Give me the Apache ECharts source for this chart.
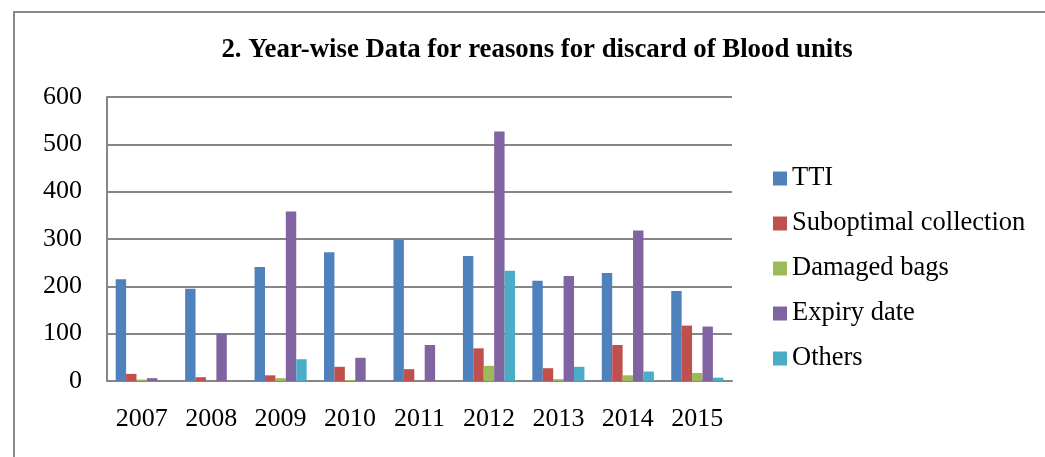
<!DOCTYPE html>
<html>
<head>
<meta charset="utf-8">
<script src="https://cdn.jsdelivr.net/npm/echarts@6/dist/echarts.min.js"></script>
<style>html,body{margin:0;padding:0;background:#fff;}#c{width:1045px;height:457px;}</style>
</head>
<body>
<div id="c"></div>
<script>
const years = ['2007','2008','2009','2010','2011','2012','2013','2014','2015'];
const tti = [215,195,241,272,299,264,212,228,190];
const suboptimal = [15,8,12,30,25,69,27,76,117];
const damaged = [3,0,6,2,0,32,4,12,17];
const expiry = [6,100,358,49,76,527,222,318,115];
const others = [0,0,46,0,0,233,30,20,7];
const yTicks = [0,100,200,300,400,500,600];

const font = 'Liberation Serif, Times New Roman, serif';
const colors = ['#4F81BD','#C0504D','#9BBB59','#8064A2','#4BACC6'];
const names = ['TTI','Suboptimal collection','Damaged bags','Expiry date','Others'];
const values = [tti, suboptimal, damaged, expiry, others];

const chart = echarts.init(document.getElementById('c'));
chart.setOption({
  animation: false,
  backgroundColor: '#fff',
  title: {
    text: '2. Year-wise Data for reasons for discard of Blood units',
    left: 532, top: 32, textAlign: 'center',
    textStyle: { fontFamily: font, fontWeight: 'bold', fontSize: 26.8, color: '#000', lineHeight: 27 }
  },
  graphic: [{
    type: 'rect', silent: true, z: -1,
    shape: { x: 14, y: 12, width: 1100, height: 500 },
    style: { fill: 'none', stroke: '#888', lineWidth: 2 }
  }],
  legend: {
    orient: 'vertical', left: 768, top: 160,
    itemWidth: 14, itemHeight: 14, itemGap: 18,
    icon: 'rect',
    textStyle: { fontFamily: font, fontSize: 26.5, color: '#000', lineHeight: 27 },
    data: names
  },
  grid: { left: 107, right: 313, top: 97, bottom: 76, containLabel: false },
  xAxis: {
    type: 'category', data: years,
    axisLine: { show: true, lineStyle: { color: '#868686', width: 2 } },
    axisTick: { show: false },
    axisLabel: { fontFamily: font, fontSize: 26, color: '#000', margin: 25 }
  },
  yAxis: {
    type: 'value', min: 0, max: 600, interval: 100,
    axisLine: { show: true, lineStyle: { color: '#868686', width: 2 } },
    axisTick: { show: false },
    splitLine: { lineStyle: { color: '#868686', width: 2 } },
    axisLabel: {
      fontFamily: font, fontSize: 26, color: '#000', margin: 25,
      formatter: v => yTicks.includes(v) ? String(v) : ''
    }
  },
  series: names.map((n, i) => ({
    name: n, type: 'bar', data: values[i],
    barGap: '0%', barCategoryGap: '25%',
    itemStyle: { color: colors[i] }
  }))
});
</script>
</body>
</html>
